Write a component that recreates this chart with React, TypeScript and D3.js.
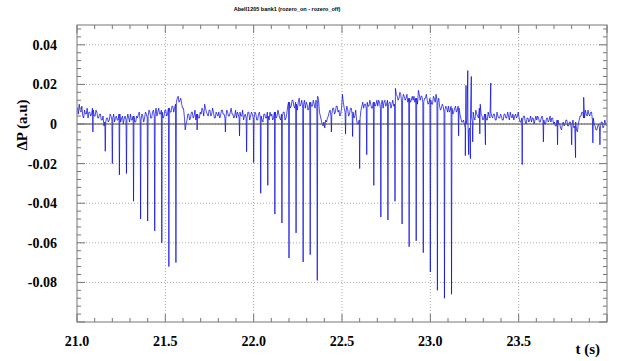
import React from 'react';
import * as d3 from 'd3';

const W = 623;
const H = 361;
const PLOT = { left: 77, top: 25, right: 607, bottom: 322 };

const titleText = 'Abell1205 bank1 (rozero_on - rozero_off)';
const xTitle = 't (s)';
const yTitle = 'ΔP (a.u)';

const xDomain = [21, 24];
const yDomain = [-0.1, 0.05];
const xTickValues = [21.0, 21.5, 22.0, 22.5, 23.0, 23.5];
const xTickLabels = ['21.0', '21.5', '22.0', '22.5', '23.0', '23.5'];
const yTickValues = [0.04, 0.02, 0, -0.02, -0.04, -0.06, -0.08];
const yTickLabels = ['0.04', '0.02', '0', '-0.02', '-0.04', '-0.06', '-0.08'];

// baseline samples (units of 0.001 a.u.), two interleaved sets, each one every 0.01 s
const SAMPLE_STEP = 0.01;
const SAMPLE_START_A = 21.0025;
const baselineMilliA = [
  8, 10, 6, 4, 7, 5, 3, 6, 5, 7,
  4, 6, 3, 5, 2, -1, 1, 3, 2, 4,
  3, 1, 4, 2, 5, 3, 0, 4, 2, 3,
  5, 2, 4, 1, 3, 6, 2, 4, 3, 5,
  4, 6, 3, 7, 5, 4, 8, 5, 6, 4,
  7, 5, 8, 6, 9, 8, 11, 14, 12, 10,
  8, -3, 2, 5, 3, 6, 4, 2, 5, 3,
  5, 7, 10, 6, 4, 7, 5, 6, 3, 5,
  6, 4, 7, 5, 3, 6, 4, 8, 5, 4,
  3, 5, 6, 4, 2, 5, 3, 6, 4, 5,
  3, 5, 2, 6, 4, 1, 5, 3, 4, 6,
  5, 3, 6, 4, 5, 2, 4, 6, 3, 9,
  11, 9, 12, 8, 10, 11, 9, 12, 10, 8,
  10, 8, 11, 9, 10, 12, 14, 6, 2, -1,
  -2, 1, 4, 7, 5, 8, 6, 9, 7, 5,
  15, 8, 6, 7, 5, 8, 6, 4, 2, 0,
  3, 9, 8, 10, 11, 9, 10, 8, 11, 10,
  9, 11, 10, 8, 12, 10, 9, 11, 10, 9,
  18, 14, 13, 15, 12, 14, 13, 11, 13, 12,
  12, 11, 13, 17, 12, 14, 11, 13, 12, 11,
  12, 10, 13, 15, 11, 9, 8, 9, 7, 8,
  9, 7, 8, 6, 9, 7, 8, 3, 1, 0,
  0, 3, -2, 4, 6, 2, 5, 3, 10, 4,
  3, 5, 2, 4, 6, 3, 5, 2, 4, 3,
  4, 2, 5, 3, 4, 6, 3, 2, 5, 4,
  3, 1, 2, 4, 0, 3, 2, 1, 3, 2,
  2, 3, 1, 4, 2, 0, 3, 2, 1, 3,
  1, -1, 2, 0, -3, 1, 0, 2, -1, 1,
  0, -2, 1, -4, 2, 4, 6, 3, 5, 7,
  4, 6, 3, -1, -3, 0, -2, 1, -1, 0,
];
const SAMPLE_START_B = 21.0075;
const baselineMilliB = [
  5, 7, 9, 3, 5, 8, 6, 4, 8, 4,
  7, 3, 5, 2, 4, 1, 3, 1, 5, 2,
  5, 3, 2, 5, 1, 4, 3, 2, 5, 1,
  2, 4, 1, 4, 5, 2, 5, 1, 6, 3,
  7, 3, 6, 4, 8, 6, 5, 7, 3, 7,
  4, 8, 6, 9, 6, 10, 13, 11, 13, 8,
  4, 0, 5, 2, 6, 3, 7, 5, 3, 6,
  8, 4, 8, 5, 7, 4, 8, 3, 6, 4,
  3, 7, 5, 3, 7, 4, 6, 5, 3, 7,
  6, 3, 4, 7, 4, 3, 6, 2, 6, 3,
  6, 2, 5, 3, 2, 5, 3, 6, 2, 4,
  2, 6, 3, 7, 3, 5, 6, 2, 5, 11,
  8, 12, 9, 11, 7, 13, 10, 8, 12, 11,
  7, 11, 9, 12, 8, 11, 12, 4, 0, 1,
  2, 3, 6, 4, 8, 5, 9, 6, 4, 8,
  11, 6, 9, 4, 8, 5, 3, 7, 0, 2,
  7, 11, 10, 8, 9, 12, 8, 11, 9, 12,
  12, 8, 12, 11, 9, 12, 11, 8, 12, 10,
  15, 12, 16, 11, 15, 12, 15, 13, 11, 14,
  14, 13, 10, 15, 14, 11, 13, 15, 10, 13,
  10, 14, 11, 12, 13, 7, 10, 6, 9, 6,
  6, 9, 5, 8, 6, 9, 5, 1, 2, -2,
  2, -3, 5, 1, 3, 7, 4, 8, 5, 2,
  5, 2, 6, 3, 4, 5, 2, 6, 3, 5,
  2, 5, 3, 6, 2, 4, 5, 4, 3, 6,
  1, 3, 4, 1, 3, 1, 4, 3, 0, 4,
  4, 1, 3, 2, 0, 3, 1, 4, 3, 0,
  -1, 2, 0, -2, 0, -1, 2, -1, 1, -2,
  2, -1, -3, 0, 4, 6, 3, 7, 4, 5,
  6, 2, 0, -3, -1, -2, 1, -2, 2, -1,
];

// narrow downward spikes
const dipTimes = [
  21.09, 21.16, 21.2, 21.24, 21.28, 21.32, 21.36, 21.4, 21.44, 21.48, 21.52, 21.56,
  21.68, 21.84, 21.92, 21.96, 22.0, 22.04, 22.08, 22.12, 22.16, 22.2, 22.24, 22.28,
  22.32, 22.36, 22.44, 22.52, 22.56, 22.6, 22.64, 22.68, 22.72, 22.76, 22.8, 22.84,
  22.88, 22.92, 22.96, 23.0, 23.04, 23.08, 23.12, 23.16, 23.198, 23.217, 23.227,
  23.24, 23.28, 23.312, 23.52, 23.64, 23.72, 23.8, 23.822, 23.92, 23.96,
];
const dipMilli = [
  -4, -13.8, -20, -25.7, -25, -39, -48, -49, -54, -60, -72, -70,
  -3, -4, -6, -14, -19.5, -35, -31, -45.5, -50, -67.7, -55, -69.7,
  -66, -79, -4, -5, -6.3, -22.5, -15.5, -31, -47, -48.5, -39, -50.5,
  -62, -59, -65, -74.7, -84, -88, -86, -6, -16, -15.5, -17.5,
  -9, -5, -10.5, -20.5, -9, -10.5, -10.5, -17, -9.5, -10.5,
];

// narrow upward spikes
const peakTimes = [23.202, 23.212, 23.232, 23.342, 23.868];
const peakMilli = [19.5, 27, 24, 20.7, 13.5];

const points = [
  ...baselineMilliA.map((v, i) => ({ t: SAMPLE_START_A + i * SAMPLE_STEP, v: v / 1000 })),
  ...baselineMilliB.map((v, i) => ({ t: SAMPLE_START_B + i * SAMPLE_STEP, v: v / 1000 })),
  ...dipTimes.map((t, i) => ({ t, v: dipMilli[i] / 1000 })),
  ...peakTimes.map((t, i) => ({ t, v: peakMilli[i] / 1000 })),
].sort((a, b) => a.t - b.t);

export default function App() {
  const x = d3.scaleLinear().domain(xDomain).range([PLOT.left, PLOT.right]);
  const y = d3.scaleLinear().domain(yDomain).range([PLOT.bottom, PLOT.top]);
  const line = d3
    .line<{ t: number; v: number }>()
    .x((d) => x(d.t))
    .y((d) => y(d.v));

  const xMinor = d3.range(0, 31).map((i) => 21 + i * 0.1);
  const yMinor = d3.range(0, 38).map((i) => -0.1 + i * 0.004);
  const frameColor = '#777';
  const serif = "'Liberation Serif', 'Times New Roman', serif";

  return (
    <svg
      width={W}
      height={H}
      style={{ position: 'absolute', left: 0, top: 0, background: '#fff' }}
    >
      <rect x={0} y={0} width={W} height={H} fill="#fff" />
      {/* grid */}
      {xTickValues.slice(1).map((t) => (
        <line key={'gx' + t} x1={x(t)} x2={x(t)} y1={PLOT.top} y2={PLOT.bottom}
          stroke="#aaa" strokeWidth={1} strokeDasharray="1,2" />
      ))}
      {yTickValues.map((v) => (
        <line key={'gy' + v} x1={PLOT.left} x2={PLOT.right} y1={y(v)} y2={y(v)}
          stroke="#aaa" strokeWidth={1} strokeDasharray="1,2" />
      ))}
      {/* data */}
      <path d={line(points) || ''} fill="none" stroke="#0000dd" strokeWidth={0.7} />
      {/* zero line */}
      <line x1={PLOT.left} x2={PLOT.right} y1={y(0)} y2={y(0)} stroke="#444" strokeWidth={1} />
      {/* frame */}
      <rect x={PLOT.left} y={PLOT.top} width={PLOT.right - PLOT.left} height={PLOT.bottom - PLOT.top}
        fill="none" stroke={frameColor} strokeWidth={1} />
      {/* x ticks bottom/top */}
      {xMinor.map((t, i) => {
        const len = i % 5 === 0 ? 8 : 4;
        return (
          <g key={'xt' + i}>
            <line x1={x(t)} x2={x(t)} y1={PLOT.bottom} y2={PLOT.bottom - len} stroke={frameColor} />
            <line x1={x(t)} x2={x(t)} y1={PLOT.top} y2={PLOT.top + len} stroke={frameColor} />
          </g>
        );
      })}
      {yMinor.map((v, i) => {
        const len = i % 5 === 0 ? 8 : 4;
        return (
          <g key={'yt' + i}>
            <line x1={PLOT.left} x2={PLOT.left + len} y1={y(v)} y2={y(v)} stroke={frameColor} />
            <line x1={PLOT.right} x2={PLOT.right - len} y1={y(v)} y2={y(v)} stroke={frameColor} />
          </g>
        );
      })}
      {/* tick labels */}
      {xTickValues.map((t, i) => (
        <text key={'xl' + t} x={x(t)} y={346} textAnchor="middle" fontFamily={serif}
          fontWeight="bold" fontSize={14} fill="#000">{xTickLabels[i]}</text>
      ))}
      {yTickValues.map((v, i) => (
        <text key={'yl' + v} x={57} y={y(v) + 5} textAnchor="end" fontFamily={serif}
          fontWeight="bold" fontSize={14} fill="#000">{yTickLabels[i]}</text>
      ))}
      {/* titles */}
      <text x={287} y={11} textAnchor="middle" fontFamily="'Liberation Sans', Arial, sans-serif"
        fontWeight="bold" fontSize={5.5} fill="#000">{titleText}</text>
      <text x={600} y={354} textAnchor="end" fontFamily={serif} fontWeight="bold" fontSize={15}
        fill="#000">{xTitle}</text>
      <text transform="translate(27,125) rotate(-90)" textAnchor="middle" fontFamily={serif}
        fontWeight="bold" fontSize={15} fill="#000">{yTitle}</text>
    </svg>
  );
}
